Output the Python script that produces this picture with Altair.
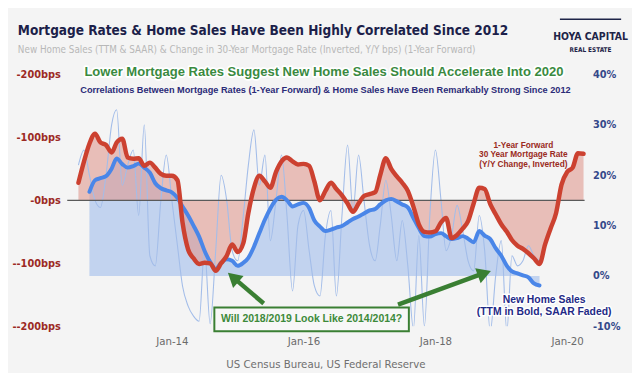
import altair as alt
import pandas as pd

# ---------------- data ----------------
red_start = "2012-08-01"  # 1-year-forward change in 30Y mortgage rate, inverted (bps)
red_bps = [28, 62, 90, 106, 92, 88, 76, 92, 98, 68, 66, 67, 55, 60, 52, 42, 39,
           39, 32, -35, -78, -92, -101, -99, -100, -112, -100, -88, -70, -82, -68, -20,
           20, 39, 30, 20, 45, 62, 68, 62, 57, 58, 55, 30, 0, 15, 28, 18, 8, -5, -18,
           -5, 7, 10, 13, 40, 67, 50, 38, 28, 15, -10, -38, -50, -51, -49, -35, -28,
           -60, -55, -45, -33, -5, 20, 18, -6, -22, -38, -50, -63, -72, -77, -84, -92,
           -101, -70, -45, -20, 25, 45, 52, 75, 74]

ttm_start = "2012-10-01"  # New home sales, TTM, Y/Y %
ttm_pct = [16.7, 19.0, 19.4, 19.8, 21.3, 23.3, 22.2, 21.5, 21.8, 22.3,
           21.5, 20.5, 18.4, 17.4, 17.0, 16.6, 15.5, 13.8, 12.0, 10.0,
           7.8, 5.0, 2.8, 1.4, 2.6, 3.3, 3.0, 2.0, 2.6, 3.6,
           5.8, 8.5, 11.2, 13.4, 15.1, 15.7, 15.0, 13.8, 14.2, 14.5,
           13.5, 11.0, 9.8, 8.9, 9.2, 9.6, 9.9, 10.6, 11.3, 11.8,
           12.4, 13.0, 13.3, 14.2, 15.0, 15.3, 14.8, 14.2, 13.6, 11.5,
           9.5, 7.9, 7.8, 8.3, 8.5, 7.9, 7.3, 7.5, 7.9, 7.4,
           6.7, 8.9, 8.0, 7.3, 5.5, 4.0, 2.0, 0.9, 0.5, 0.1,
           -0.3, -1.5, -1.9]

saar_start = "2012-08-01"  # New home sales, SAAR, Y/Y % (faded)
saar_pct = [22, 25, 20, 15, 13.6, 20, 30, 33, 18, 22, 25, 12, 30, 4, 2, 15, 24,
            15, 6, -2, -6, -8, -9, 5.5, -9.5, 5, 20, 15, 5, 3, 12, 22, 29, 18, 24,
            7, 15, 24, 12, -3, 10, 13, 5, -2, -4, 8, 13, -4, 12, 26, 13, 24, 15,
            6, 3, 10, 19, 12, 3, 11, 2, -10.5, 8, -10, 12, 25, 15, 5, 8, 14, 9,
            3, 1, 12, 5, -11, 0, 7, -11, 4, 2, 3, 6, 4, 3]

left_ticks = [-200, -100, 0, 100, 200]
right_ticks = [-10, 0, 10, 20, 30, 40]
x_tick_years = [2014, 2016, 2018, 2020]

title_text = "Mortgage Rates & Home Sales Have Been Highly Correlated Since 2012"
subtitle_text = ("New Home Sales (TTM & SAAR) & Change in 30-Year Mortgage Rate "
                 "(Inverted, Y/Y bps) (1-Year Forward)")
headline_text = "Lower Mortgage Rates Suggest New Home Sales Should Accelerate Into 2020"
navy_text = ("Correlations Between Mortgage Rates (1-Year Forward) & Home Sales "
             "Have Been Remarkably Strong Since 2012")
red_note = ["1-Year Forward", "30 Year Mortgage Rate", "(Y/Y Change, Inverted)"]
blue_note = ["New Home Sales", "(TTM in Bold, SAAR Faded)"]
box_text = "Will 2018/2019 Look Like 2014/2014?"
source_text = "US Census Bureau, US Federal Reserve"


def monthly(start, vals, name):
    dates = pd.date_range(start, periods=len(vals), freq="MS").strftime("%Y-%m-%d")
    return pd.DataFrame({"date": dates, name: vals})


red_df = monthly(red_start, red_bps, "bps")
ttm_df = monthly(ttm_start, ttm_pct, "pct")
saar_df = monthly(saar_start, saar_pct, "pct")
dummy = pd.DataFrame({"k": [0]})

NARROW = "Liberation Sans Narrow, DejaVu Sans Condensed, sans-serif"
SANS = "Liberation Sans, Arial, sans-serif"

W, H = 524, 255

x_enc = alt.X(
    "date:T",
    scale=alt.Scale(type="utc",
                    domain=[alt.DateTime(year=2012, month=5, date=31, utc=True),
                            alt.DateTime(year=2020, month=4, date=7, utc=True)]),
    axis=alt.Axis(values=[alt.DateTime(year=y, month=1, date=1, utc=True) for y in x_tick_years],
                  format="%b-%y", title=None, grid=False, domain=False, ticks=False,
                  labelFont=NARROW, labelFontSize=11.5, labelColor="#6b6b6b",
                  labelPadding=9, labelFlush=False),
)

bps_scale = alt.Scale(domain=[-200, 200], nice=False, zero=False)
pct_scale = alt.Scale(domain=[-10, 40], nice=False, zero=False)

left_axis = alt.Axis(orient="left", values=left_ticks, labelExpr="'-' + datum.value + 'bps'",
                     title=None, grid=False, domain=False, ticks=False, labelFont=NARROW,
                     labelFontSize=11, labelFontWeight="bold", labelColor="#9c2a24",
                     labelPadding=7)
right_axis = alt.Axis(orient="right", values=right_ticks, labelExpr="datum.value + '%'",
                      title=None, grid=False, domain=False, ticks=False, labelFont=NARROW,
                      labelFontSize=11, labelFontWeight="bold", labelColor="#34498a",
                      labelPadding=8)

blue_area = alt.Chart(ttm_df).mark_area(color="#8fb2ea", opacity=0.5, interpolate="monotone").encode(
    x=x_enc, y=alt.Y("pct:Q", scale=pct_scale, axis=None), y2=alt.Y2(datum=0))
red_area = alt.Chart(red_df).mark_area(color="#e09a8f", opacity=0.6, interpolate="monotone").encode(
    x=x_enc, y=alt.Y("bps:Q", scale=bps_scale, axis=None), y2=alt.Y2(datum=0))
saar_line = alt.Chart(saar_df).mark_line(color="#a3bde9", strokeWidth=1.1, interpolate="monotone",
                                         clip=True).encode(
    x=x_enc, y=alt.Y("pct:Q", scale=pct_scale, axis=None))
zero_rule = alt.Chart(dummy).mark_rule(color="#5a5a5a", strokeWidth=1.5).encode(
    y=alt.Y(datum=0, type="quantitative", scale=bps_scale, axis=None))
ttm_line = alt.Chart(ttm_df).mark_line(color="#4a86e8", strokeWidth=4, interpolate="monotone",
                                       strokeCap="round").encode(
    x=x_enc, y=alt.Y("pct:Q", scale=pct_scale, axis=right_axis))
red_line = alt.Chart(red_df).mark_line(color="#cc4130", strokeWidth=4.5, interpolate="monotone",
                                       strokeCap="round").encode(
    x=x_enc, y=alt.Y("bps:Q", scale=bps_scale, axis=left_axis))


def txt(text, x, y, size, color, font=SANS, weight="bold", align="center",
        baseline="alphabetic", **kw):
    return alt.Chart(dummy).mark_text(text=text, font=font, fontSize=size, fontWeight=weight,
                                      color=color, align=align, baseline=baseline, **kw).encode(
        x=alt.value(x), y=alt.value(y))


def outlined(text, x, y, size, color, halo="white", hw=3.0, **kw):
    back = alt.Chart(dummy).mark_text(text=text, font=SANS, fontSize=size, fontWeight="bold",
                                      color=halo, stroke=halo, strokeWidth=hw, strokeJoin="round",
                                      align="center", baseline="alphabetic", **kw).encode(
        x=alt.value(x), y=alt.value(y))
    front = txt(text, x, y, size, color)
    return [back, front]


def rule(x1, y1, x2, y2, color, width):
    return alt.Chart(dummy).mark_rule(color=color, strokeWidth=width).encode(
        x=alt.value(x1), y=alt.value(y1), x2=alt.value(x2), y2=alt.value(y2))


def head(x, y, angle, color, size=260):
    return alt.Chart(dummy).mark_point(shape="triangle-up", filled=True, size=size, angle=angle,
                                       color=color, opacity=1).encode(
        x=alt.value(x), y=alt.value(y))


GREEN = "#3a7f33"
annotations = []
annotations.append(txt(title_text, -50, -40.5, 13.7, "#1c1f4a", font=NARROW, align="left"))
annotations.append(txt(subtitle_text, -50, -21.5, 9.95, "#b8b8b8", font=NARROW, weight="normal",
                       align="left"))
annotations += outlined(headline_text, 260, 2, 13.2, "#3a8a3f", hw=3.5)
annotations.append(txt(navy_text, 261.5, 19, 9.3, "#2b2b78"))
for i, line in enumerate(red_note):
    annotations.append(txt(line, 462, 74 + 10 * i, 8.4, "#9a2b22"))
for i, line in enumerate(blue_note):
    annotations += outlined(line, 483, 231 + 13 * i, 10.5, "#1f2a86", hw=3.0)
annotations.append(alt.Chart(dummy).mark_rect(fill="#f7f7f7", stroke=GREEN, strokeWidth=2).encode(
    x=alt.value(149), x2=alt.value(346), y=alt.value(236), y2=alt.value(260)))
annotations.append(txt(box_text, 247.5, 248, 10.6, "#3d8a3a", baseline="middle"))
annotations.append(rule(199, 232, 171, 208, GREEN, 4.5))
annotations.append(head(168, 205.5, 311, GREEN))
annotations.append(rule(335, 233, 420, 202, GREEN, 4.5))
annotations.append(head(422.5, 201.5, 70, GREEN))
annotations.append(txt(source_text, 262, 297, 11.5, "#6f6f6f", font=NARROW, weight="normal"))
# logo
annotations.append(rule(499, -56, 561, -56, "#1e2448", 1.5))
annotations.append(txt("HOYA CAPITAL", 530, -35, 10.5, "#1e2448", font=NARROW))
annotations.append(txt("REAL ESTATE", 530, -23, 6.5, "#1e2448", font=NARROW))

chart = alt.layer(
    blue_area, red_area, saar_line, zero_rule, ttm_line, red_line, *annotations
).resolve_scale(y="independent").properties(
    width=W, height=H,
    padding={"left": 60, "top": 65, "right": 48, "bottom": 45},
    autosize=alt.AutoSizeParams(type="none"),
    background="#f4f4f4",
).configure_view(stroke=None)

chart.save("out.html", embed_options={"renderer": "svg", "actions": False})
